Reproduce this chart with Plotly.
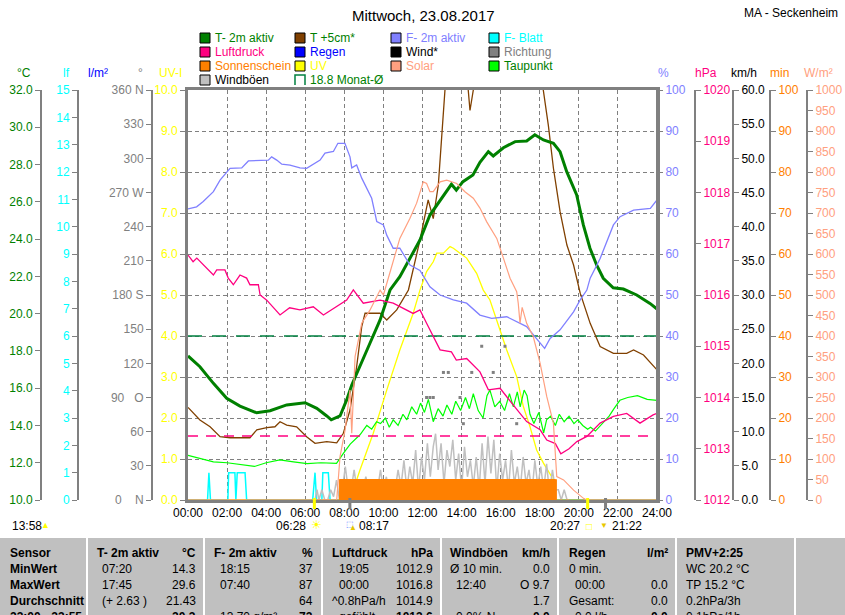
import plotly.graph_objects as go

# ---------------- data (hours of day, values in axis units) ----------------
zeit_ticks = [0, 2, 4, 6, 8, 10, 12, 14, 16, 18, 20, 22, 24]
zeit_labels = ["00:00", "02:00", "04:00", "06:00", "08:00", "10:00", "12:00",
               "14:00", "16:00", "18:00", "20:00", "22:00", "24:00"]

# T- 2m aktiv (°C)
t2m_t = [0.0, 0.61, 1.3, 1.98, 2.66, 3.51, 4.2, 5.05, 5.99, 6.59, 7.1, 7.33, 7.78, 8.12,
         8.38, 8.8, 9.31, 9.83, 10.34, 10.84, 11.52, 11.87, 12.38, 12.88, 13.48, 13.73,
         14.07, 14.58, 14.94, 15.37, 15.62, 16.14, 16.74, 17.33, 17.75, 18.19, 18.7,
         19.04, 19.38, 19.89, 20.23, 20.57, 20.91, 21.25, 21.76, 22.28, 22.96, 23.64, 24.0]
t2m = [17.73, 17.15, 16.26, 15.46, 15.04, 14.68, 14.79, 15.10, 15.22, 14.92, 14.51, 14.3,
       14.51, 15.37, 16.17, 17.15, 18.41, 19.66, 21.27, 21.98, 23.32, 23.95, 25.29, 26.01,
       26.94, 26.63, 27.08, 27.44, 28.12, 28.69, 28.46, 28.90, 29.23, 29.26, 29.6, 29.32,
       29.14, 28.69, 27.62, 26.37, 24.76, 23.51, 22.61, 21.90, 21.39, 21.32, 21.00, 20.55, 20.25]

# T +5cm* (°C)
t5_t = [0.0, 0.61, 1.13, 1.64, 2.15, 3.17, 3.52, 4.03, 4.45, 4.71, 5.05, 5.56, 6.07, 6.5,
        7.1, 7.61, 7.95, 8.29, 8.63, 8.89, 9.06, 9.83, 10.17, 10.68, 11.28, 11.87, 12.29,
        12.55, 12.81, 12.99, 13.15, 13.6, 14.0, 14.34, 14.43, 14.6, 15.5, 16.5, 17.5, 18.18,
        18.44, 18.7, 19.04, 19.39, 19.73, 20.07, 20.58, 21.09, 21.77, 22.45, 22.8, 23.31,
        23.83, 24.0]
t5 = [14.97, 14.29, 13.93, 13.40, 13.34, 13.34, 13.76, 13.88, 13.93, 14.20, 14.02, 13.93,
      13.40, 13.04, 13.13, 13.07, 13.58, 14.83, 17.15, 19.30, 20.02, 20.02, 19.66, 20.20,
      21.27, 23.95, 26.1, 25.1, 26.9, 29.6, 32.0, 36.0, 34.5, 32.0, 30.9, 32.0, 38.0, 40.0,
      37.0, 32.0, 30.1, 27.8, 25.47, 23.68, 22.61, 21.1, 19.48, 18.23, 17.87, 17.87, 18.05,
      17.78, 17.15, 16.98]

# F- 2m aktiv (%)
feuchte_t = [0.0, 0.44, 0.78, 1.3, 1.64, 2.06, 2.15, 2.75, 3.09, 4.11, 4.28, 4.54, 4.8,
             5.22, 5.73, 6.07, 6.41, 6.76, 7.01, 7.44, 7.67, 8.03, 8.29, 8.38, 8.63, 8.89,
             9.4, 9.66, 10.0, 10.17, 10.5, 10.84, 11.36, 11.87, 12.38, 12.9, 13.58, 14.26,
             14.94, 15.54, 16.31, 16.99, 17.33, 17.76, 18.25, 18.53, 19.04, 19.73, 20.07,
             20.41, 20.58, 21.09, 21.52, 21.77, 22.11, 22.8, 23.66, 24.0]
feuchte = [71.0, 71.5, 72.8, 75.2, 78.0, 80.2, 80.9, 81.0, 82.7, 82.9, 83.7, 82.9, 81.9,
           81.7, 81.0, 80.9, 81.9, 82.9, 84.6, 85.0, 87.0, 87.0, 83.7, 81.0, 81.7, 78.5,
           73.6, 67.9, 67.1, 64.6, 61.4, 61.4, 57.3, 56.0, 52.0, 50.0, 48.8, 48.0, 45.1,
           44.3, 44.7, 43.1, 42.3, 39.8, 37.0, 39.4, 41.5, 45.9, 48.8, 51.2, 54.1, 58.9,
           63.8, 67.1, 69.1, 70.7, 71.1, 73.2]

# Luftdruck (hPa)
druck_t = [0.0, 0.26, 0.45, 0.78, 1.3, 1.47, 1.89, 2.06, 2.32, 2.66, 3.0, 3.17, 3.6, 3.69,
           4.03, 4.71, 5.2, 5.73, 6.41, 6.93, 7.61, 8.12, 8.46, 8.97, 9.83, 10.5, 11.52,
           11.87, 12.21, 12.9, 13.48, 13.73, 14.26, 14.94, 15.37, 15.97, 16.65, 17.33,
           18.02, 18.36, 18.8, 19.08, 19.5, 19.9, 20.41, 21.09, 21.77, 22.45, 23.13, 23.8, 24.0]
druck = [1016.78, 1016.65, 1016.72, 1016.59, 1016.39, 1016.49, 1016.49, 1016.33, 1016.20,
         1016.39, 1016.33, 1016.20, 1016.20, 1016.0, 1015.9, 1015.61, 1015.75, 1015.71,
         1015.77, 1015.61, 1015.77, 1015.9, 1016.1, 1015.84, 1015.9, 1015.84, 1015.64,
         1015.71, 1015.45, 1014.93, 1014.89, 1014.73, 1014.76, 1014.50, 1014.15, 1014.18,
         1013.85, 1013.53, 1013.37, 1013.17, 1013.1, 1012.9, 1013.0, 1013.14, 1013.24,
         1013.50, 1013.63, 1013.69, 1013.5, 1013.66, 1013.69]

# Taupunkt (°C)
tau_t = [0, 0.6, 1.3, 2.0, 2.7, 3.4, 4.0, 4.7, 5.4, 6.1, 6.8, 7.6, 7.95, 8.3, 8.8, 9.15,
         9.4, 9.65, 9.85, 10.1, 10.3, 10.5, 10.75, 11.0, 11.2, 11.45, 11.7, 11.9, 12.1,
         12.3, 12.55, 12.8, 13.05, 13.25, 13.5, 13.7, 13.95, 14.2, 14.4, 14.6, 14.85, 15.1,
         15.3, 15.45, 15.7, 15.95, 16.2, 16.45, 16.65, 16.85, 17.0, 17.2, 17.35, 17.5, 17.7,
         17.95, 18.2, 18.35, 18.55, 18.8, 19.0, 19.25, 19.5, 19.75, 19.95, 20.2, 20.45,
         20.6, 20.85, 21.1, 21.3, 21.55, 21.8, 22.1, 22.5, 23.0, 23.5, 24]
taupunkt = [12.4, 12.25, 12.05, 12.0, 11.9, 11.8, 12.0, 12.15, 12.05, 11.95, 12.0, 11.97,
            12.5, 13.0, 13.5, 14.0, 13.8, 14.2, 14.1, 14.4, 13.9, 14.3, 14.0, 14.6, 14.3,
            15.0, 14.6, 15.2, 14.7, 15.4, 14.2, 14.9, 14.5, 15.1, 14.6, 15.3, 14.8, 15.5,
            14.9, 15.7, 14.8, 14.4, 15.6, 15.9, 15.0, 15.3, 14.8, 15.7, 15.0, 15.8, 15.0,
            15.9, 15.6, 14.6, 14.1, 14.7, 13.6, 14.3, 14.5, 14.0, 14.6, 14.2, 14.5, 14.1,
            14.3, 14.0, 13.8, 13.9, 13.7, 14.0, 14.2, 14.5, 14.9, 15.35, 15.5, 15.6, 15.4, 15.35]

# UV-Index
uv_t = [0, 8.29, 8.8, 9.48, 10.17, 10.84, 11.52, 11.87, 12.21, 12.55, 12.73, 13.07, 13.41,
        13.58, 13.92, 14.26, 14.77, 15.11, 15.45, 15.8, 16.31, 16.82, 17.16, 17.5, 17.84,
        18.19, 18.61, 18.79, 24]
uv = [0, 0, 0.73, 1.63, 2.68, 3.66, 4.55, 5.12, 5.57, 5.81, 6.02, 6.02, 6.18, 6.14, 6.02,
      5.9, 5.53, 5.12, 4.88, 4.39, 3.66, 3.01, 2.28, 1.79, 1.22, 0.9, 0.57, 0, 0]

# Solar (W/m²)
solar_t = [0, 7.61, 7.78, 8.04, 8.29, 8.38, 8.55, 8.89, 9.31, 9.83, 10.0, 10.5, 10.84,
           11.36, 11.7, 12.04, 12.21, 12.38, 12.55, 12.9, 13.24, 13.75, 14.17, 14.6, 14.94,
           15.28, 15.8, 16.14, 16.48, 16.82, 16.9, 16.99, 17.1, 17.33, 17.67, 18.02, 18.36,
           18.7, 18.87, 19.22, 19.73, 20.24, 20.4, 24]
solar = [0, 0, 106, 171, 268, 163, 350, 431, 463, 512, 500, 581, 638, 687, 724, 776, 772,
         752, 752, 776, 780, 772, 752, 736, 712, 679, 638, 590, 541, 508, 480, 431, 470,
         431, 398, 333, 252, 187, 57, 49, 24, 4, 0, 0]

# Sonnenschein (min je 5 min)
sonne_t = [0, 7.7, 7.75, 18.8, 18.85, 24]
sonne_min = [0, 0, 5, 5, 0, 0]

# Windböen (km/h)
boe_t = [6.5, 6.6, 6.7, 6.85, 7.0, 7.15, 7.3, 7.45, 7.6, 7.75, 7.9, 8.05, 8.2, 8.35, 8.5,
         8.65, 8.8, 8.95, 9.1, 9.25, 9.4, 9.55, 9.7, 9.85, 10.0, 10.15, 10.3, 10.45, 10.6,
         10.75, 10.9, 11.05, 11.2, 11.35, 11.5, 11.65, 11.8, 11.95, 12.1, 12.25, 12.4,
         12.55, 12.67, 12.8, 12.95, 13.1, 13.25, 13.4, 13.55, 13.7, 13.85, 14.0, 14.15,
         14.3, 14.45, 14.6, 14.75, 14.9, 15.05, 15.2, 15.35, 15.5, 15.65, 15.8, 15.95,
         16.1, 16.25, 16.4, 16.55, 16.7, 16.85, 17.0, 17.15, 17.3, 17.45, 17.6, 17.75,
         17.9, 18.05, 18.2, 18.35, 18.5, 18.65, 18.8, 18.95, 19.1, 19.25, 19.4, 19.5]
boeen = [0, 1.5, 0, 1.5, 0, 0, 1.5, 0.5, 2.9, 0, 1.5, 4.9, 1.5, 1.5, 4.4, 1.5, 2.9, 1.5,
         3.4, 1.5, 1.5, 2.4, 1.5, 4.4, 1.5, 3.4, 1.0, 2.9, 1.5, 4.4, 2.0, 5.8, 1.5, 4.9,
         2.4, 7.3, 1.5, 6.3, 2.9, 8.3, 3.4, 7.8, 9.7, 4.4, 8.3, 2.4, 7.3, 4.9, 8.8, 2.9,
         6.8, 1.5, 7.8, 3.4, 5.8, 2.0, 6.3, 1.5, 8.3, 2.4, 9.3, 3.9, 8.8, 1.5, 6.8, 2.9,
         5.8, 1.5, 7.3, 2.4, 4.9, 1.5, 6.3, 2.4, 4.4, 1.0, 5.8, 2.0, 4.9, 1.5, 5.3, 1.0,
         4.4, 1.5, 1.5, 0, 1.5, 0, 0]

# Wind* (km/h)
wind_t = [12.1, 12.3, 12.5, 12.7, 12.9, 13.1, 13.3, 13.5, 13.7, 13.9, 14.1, 14.3, 14.5,
          14.7, 14.9, 15.1, 15.3, 15.5, 15.7, 15.9, 16.1, 16.3, 16.5, 16.7, 16.9, 17.1, 17.4]
wind = [0.0, 1.0, 1.2, 0.7, 1.0, 0.8, 1.1, 0.6, 0.9, 1.0, 0.7, 0.9, 0.6, 0.8, 0.9, 0.6,
        0.8, 0.7, 0.5, 0.8, 0.6, 0.7, 0.5, 0.6, 0.3, 0.2, 0.1]

# F- Blatt
blatt_t = [0, 1.0, 1.07, 1.15, 2.04, 2.08, 2.4, 2.45, 2.52, 2.92, 3.0, 6.38, 6.5, 6.58,
           6.85, 6.9, 7.18, 7.27, 24]
blatt = [0, 0, 1, 0, 0, 1, 1, 0, 1, 1, 0, 0, 1, 0, 0, 1, 1, 0, 0]

# Richtung (°)
richt_t = [12.21, 12.38, 12.55, 13.07, 13.32, 13.92, 14.09, 14.52, 15.03, 15.62, 16.22, 16.82]
richtung = [90, 90, 90, 112, 112, 90, 67, 112, 135, 112, 135, 67]

monat_mittel = 18.8      # °C
normaldruck = 1013.25    # hPa
sonnenaufgang, sonnenuntergang = "06:28", "20:27"
mondaufgang, monduntergang = "08:17", "21:22"
tageslaenge = "13:58"

# ---------------- layout helpers ----------------
W, H = 845, 615
FONT = "Liberation Sans, Arial, sans-serif"


def fx(px):
    return px / W


def fy(py):
    return 1 - py / H


def hm(s):
    h, m = s.split(":")
    return int(h) + int(m) / 60


def yax(pos, side, rng, dtick, color, fmt="", **kw):
    d = dict(range=rng, anchor="free", position=fx(pos), side=side, overlaying="y",
             showgrid=False, zeroline=False, showline=True, linecolor="#808080",
             linewidth=2, ticks="outside", ticklen=5, tickcolor="#808080",
             dtick=dtick, tick0=rng[0], tickformat=fmt, automargin=False,
             tickfont=dict(color=color, size=12, family=FONT))
    d.update(kw)
    return d


fig = go.Figure()

fig.add_trace(go.Scatter(x=sonne_t, y=sonne_min, yaxis="y9", mode="lines",
                         line=dict(color="#ff8000", width=1, shape="hv"),
                         fill="tozeroy", fillcolor="#ff8000"))
fig.add_trace(go.Scatter(x=boe_t, y=boeen, yaxis="y8", mode="lines",
                         line=dict(color="#c0c0c0", width=1.5)))
fig.add_trace(go.Scatter(x=wind_t, y=wind, yaxis="y8", mode="lines",
                         line=dict(color="#000000", width=1)))
fig.add_trace(go.Scatter(x=blatt_t, y=blatt, yaxis="y3", mode="lines",
                         line=dict(color="#00ffff", width=1.5)))
fig.add_trace(go.Scatter(x=richt_t, y=richtung, yaxis="y5", mode="markers",
                         marker=dict(color="#808080", size=3, symbol="square")))
fig.add_trace(go.Scatter(x=[0, 24], y=[normaldruck, normaldruck], yaxis="y7", mode="lines",
                         line=dict(color="#ff0080", width=1.5, dash="10px,8px")))
fig.add_trace(go.Scatter(x=[0, 24], y=[monat_mittel, monat_mittel], yaxis="y2", mode="lines",
                         line=dict(color="#008040", width=1.5, dash="14px,10px")))
fig.add_trace(go.Scatter(x=solar_t, y=solar, yaxis="y10", mode="lines",
                         line=dict(color="#ffa080", width=1.2)))
fig.add_trace(go.Scatter(x=uv_t, y=uv, yaxis="y", mode="lines",
                         line=dict(color="#ffff00", width=1.3)))
fig.add_trace(go.Scatter(x=tau_t, y=taupunkt, yaxis="y2", mode="lines",
                         line=dict(color="#00ff00", width=1.2)))
fig.add_trace(go.Scatter(x=druck_t, y=druck, yaxis="y7", mode="lines",
                         line=dict(color="#ff0080", width=1.3)))
fig.add_trace(go.Scatter(x=feuchte_t, y=feuchte, yaxis="y6", mode="lines",
                         line=dict(color="#8080ff", width=1.3)))
fig.add_trace(go.Scatter(x=t5_t, y=t5, yaxis="y2", mode="lines",
                         line=dict(color="#804000", width=1.3)))
fig.add_trace(go.Scatter(x=t2m_t, y=t2m, yaxis="y2", mode="lines",
                         line=dict(color="#008000", width=3)))

richt_vals = list(range(0, 361, 30))
richt_text = ["0    N", "30", "60", "90   O", "120", "150", "180 S", "210", "240",
              "270 W", "300", "330", "360 N"]

fig.update_layout(
    width=W, height=H, margin=dict(l=0, r=0, t=0, b=0, autoexpand=False),
    paper_bgcolor="white", plot_bgcolor="white", showlegend=False,
    font=dict(family=FONT, size=12, color="black"),
    xaxis=dict(domain=[fx(188), fx(657)], range=[0, 24], tickvals=zeit_ticks,
               ticktext=zeit_labels, showgrid=True, gridcolor="#808080",
               griddash="4px,3px", gridwidth=1, showline=True, mirror=True,
               linecolor="#808080", linewidth=3, zeroline=False, ticks="",
               automargin=False, tickfont=dict(size=12, color="black")),
    yaxis=dict(domain=[fy(500), fy(90)], range=[0, 10], dtick=1, tick0=0,
               tickformat=".1f", showgrid=True, gridcolor="#808080",
               griddash="4px,3px", gridwidth=1, showline=True, mirror=True,
               linecolor="#808080", linewidth=3, zeroline=False, ticks="outside",
               ticklen=5, tickcolor="#808080", automargin=False,
               tickfont=dict(color="#ffff00", size=12)),
    yaxis2=yax(41, "left", [10, 32], 2, "#008000", ".1f"),
    yaxis3=yax(78, "left", [0, 15], 1, "#00ffff"),
    yaxis4=yax(115, "left", [0, 5], 1, "#0000ff", ".1f"),
    yaxis5=yax(152, "left", [0, 360], 30, "#808080", tickmode="array",
               tickvals=richt_vals, ticktext=richt_text),
    yaxis6=yax(657, "right", [0, 100], 10, "#8080ff"),
    yaxis7=yax(695, "right", [1012, 1020], 1, "#ff0080"),
    yaxis8=yax(733, "right", [0, 60], 5, "#000000", ".1f"),
    yaxis9=yax(770, "right", [0, 100], 10, "#ff8000"),
    yaxis10=yax(807, "right", [0, 1000], 50, "#ffa080"),
)

ann = []
shapes = []


def text(x, y, s, color="black", size=12, anchor="left", bold=False, ymid="middle"):
    if bold:
        s = "<b>" + s + "</b>"
    ann.append(dict(x=fx(x), y=fy(y), xref="paper", yref="paper", text=s,
                    showarrow=False, xanchor=anchor, yanchor=ymid,
                    font=dict(color=color, size=size, family=FONT)))


# title
text(423, 15, "Mittwoch, 23.08.2017", size=15, anchor="center")
text(840, 13, "MA - Seckenheim", size=12, anchor="right")

# units above axes
for x, s, c in [(24, "°C", "#008000"), (66, "lf", "#00ffff"), (98, "l/m²", "#0000ff"),
                (140, "°", "#808080"), (170, "UV-I", "#ffff00"), (663, "%", "#8080ff"),
                (706, "hPa", "#ff0080"), (744, "km/h", "#000000"), (779, "min", "#ff8000"),
                (818, "W/m²", "#ffa080")]:
    text(x, 73, s, c, anchor="center")

# legend
legende = [
    ("T- 2m aktiv", "#008000", "#008000"), ("T +5cm*", "#804000", "#008000"),
    ("F- 2m aktiv", "#8080ff", "#8080ff"), ("F- Blatt", "#00ffff", "#00ffff"),
    ("Luftdruck", "#ff0080", "#ff0080"), ("Regen", "#0000ff", "#0000ff"),
    ("Wind*", "#000000", "#000000"), ("Richtung", "#808080", "#808080"),
    ("Sonnenschein", "#ff8000", "#ff8000"), ("UV", "#ffff00", "#ffff00"),
    ("Solar", "#ffa080", "#ffa080"), ("Taupunkt", "#00ff00", "#008000"),
    ("Windböen", "#c0c0c0", "#000000"), ("18.8 Monat-Ø", None, "#008000"),
]
col_x = [200, 295, 391, 489]
row_y = [38, 52, 66, 80]
for i, (lab, fill, tc) in enumerate(legende):
    x0, yc = col_x[i % 4], row_y[i // 4]
    if fill:
        shapes.append(dict(type="rect", xref="paper", yref="paper", x0=fx(x0), x1=fx(x0 + 10),
                           y0=fy(yc - 5), y1=fy(yc + 5), fillcolor=fill,
                           line=dict(color="black", width=1)))
    else:
        shapes.append(dict(type="path", xref="paper", yref="paper",
                           path="M %f %f L %f %f L %f %f L %f %f" % (
                               fx(x0), fy(yc + 5), fx(x0), fy(yc - 5),
                               fx(x0 + 10), fy(yc - 5), fx(x0 + 10), fy(yc + 5)),
                           line=dict(color="#008040", width=1.5)))
    text(x0 + 13, yc, lab, tc, size=12)

# sun / moon marks below the axis
for zeit, col in [(sonnenaufgang, "#ffff00"), (sonnenuntergang, "#ffff00"),
                  (mondaufgang, "#808080"), (monduntergang, "#808080")]:
    shapes.append(dict(type="line", xref="x", yref="paper", x0=hm(zeit), x1=hm(zeit),
                       y0=fy(498), y1=fy(509), line=dict(color=col, width=3)))

text(10, 526, tageslaenge)
text(45, 525, "▲", "#ffff00", size=9, anchor="center")
text(308, 526, sonnenaufgang, anchor="right")
text(316, 525, "☀", "#ffff00", size=12, anchor="center")
text(350, 524, "⬚", "#4060ff", size=8, anchor="center")
text(353, 527, "▲", "#e8c800", size=8, anchor="center")
text(357, 526, mondaufgang)
text(582, 526, sonnenuntergang, anchor="right")
text(589, 526, "□", "#ffff00", size=10, anchor="center")
text(604, 525, "▼", "#e8c800", size=8, anchor="center")
text(610, 526, monduntergang)

# ---------------- statistics table ----------------
shapes.append(dict(type="rect", xref="paper", yref="paper", x0=0, x1=1, y0=0, y1=fy(538),
                   fillcolor="#c0c0c0", line=dict(width=0), layer="below"))
for sx in [87, 204, 322, 441, 558, 676, 795]:
    shapes.append(dict(type="line", xref="paper", yref="paper", x0=fx(sx), x1=fx(sx),
                       y0=0, y1=fy(538), line=dict(color="white", width=2)))

zeilen_y = [553, 569, 585, 601, 617]
tabelle = [
    [("Sensor", 8, "left", True), ("T- 2m aktiv", 95, "left", True), ("°C", 198, "right", True),
     ("F- 2m aktiv", 212, "left", True), ("%", 315, "right", True),
     ("Luftdruck", 330, "left", True), ("hPa", 435, "right", True),
     ("Windböen", 448, "left", True), ("km/h", 552, "right", True),
     ("Regen", 567, "left", True), ("l/m²", 670, "right", True),
     ("PMV+2:25", 684, "left", True)],
    [("MinWert", 8, "left", True), ("07:20", 100, "left", False), ("14.3", 198, "right", False),
     ("18:15", 218, "left", False), ("37", 315, "right", False),
     ("19:05", 337, "left", False), ("1012.9", 435, "right", False),
     ("Ø 10 min.", 448, "left", False), ("0.0", 552, "right", False),
     ("0 min.", 567, "left", False), ("WC 20.2 °C", 684, "left", False)],
    [("MaxWert", 8, "left", True), ("17:45", 100, "left", False), ("29.6", 198, "right", False),
     ("07:40", 218, "left", False), ("87", 315, "right", False),
     ("00:00", 337, "left", False), ("1016.8", 435, "right", False),
     ("12:40", 454, "left", False), ("O 9.7", 552, "right", False),
     ("00:00", 573, "left", False), ("0.0", 670, "right", False),
     ("TP 15.2 °C", 684, "left", False)],
    [("Durchschnitt", 8, "left", True), ("(+ 2.63 )", 100, "left", False),
     ("21.43", 198, "right", False), ("64", 315, "right", False),
     ("^0.8hPa/h", 330, "left", False), ("1014.9", 435, "right", False),
     ("1.7", 552, "right", False), ("Gesamt:", 567, "left", False),
     ("0.0", 670, "right", False), ("0.2hPa/3h", 684, "left", False)],
    [("23:00 - 23:55", 8, "left", True), ("20.3", 198, "right", True),
     ("13.70 g/m³", 218, "left", False), ("72", 315, "right", True),
     ("gefühlt", 337, "left", False), ("1013.6", 435, "right", True),
     ("0.0% N", 454, "left", False), ("0.0", 552, "right", True),
     ("0.0 l/h", 573, "left", False), ("0.0", 670, "right", True),
     ("0.1hPa/1h", 684, "left", False)],
]
for zy, zeile in zip(zeilen_y, tabelle):
    for s, x, a, b in zeile:
        text(x, zy, s, size=12, anchor=a, bold=b)

fig.update_layout(annotations=ann, shapes=shapes)
# page without the default 8px body margin, so the figure fills the window
fig.write_html("out.html", config={"displayModeBar": False},
               post_script="document.body.style.margin='0';document.body.style.overflow='hidden';")
